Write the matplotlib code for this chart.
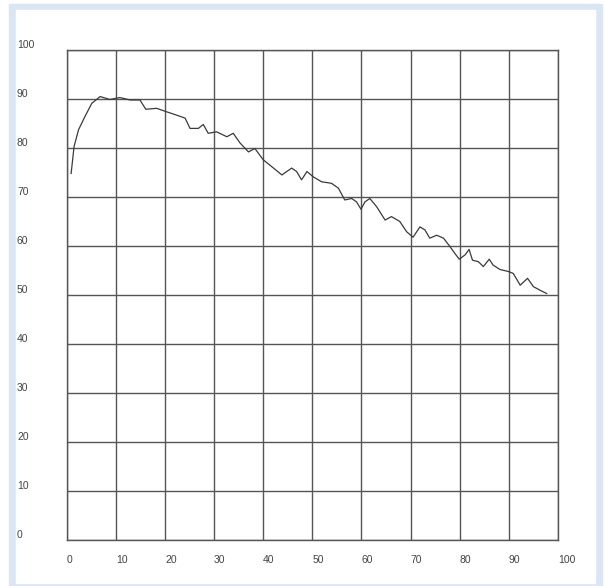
import matplotlib.pyplot as plt
from matplotlib.patches import Rectangle

# curve values
x_vals = [0.9, 1.5, 2.4, 3.7, 5.1, 6.8, 8.8, 10.8, 12.9, 14.9, 16.1, 18.3,
          20.3, 22.4, 24.1, 25.1, 26.8, 27.8, 28.8, 30.5, 32.6, 33.9, 35.3,
          37.0, 38.3, 40.0, 42.1, 43.8, 45.8, 46.8, 47.8, 48.9, 50.2, 51.9,
          53.9, 55.3, 56.6, 58.0, 59.0, 59.9, 60.7, 61.7, 63.1, 64.8, 66.1,
          67.8, 69.2, 70.5, 71.9, 72.9, 73.9, 75.3, 76.7, 78.0, 79.0, 79.9,
          81.1, 81.9, 82.6, 83.8, 84.8, 86.0, 86.8, 88.2, 89.9, 90.9, 92.3,
          93.8, 95.0, 96.3, 97.7]
y_vals = [74.8, 80.3, 83.7, 86.4, 89.1, 90.5, 89.9, 90.3, 89.8, 89.8, 87.9, 88.1,
          87.4, 86.7, 86.1, 84.0, 84.0, 84.8, 83.0, 83.3, 82.3, 83.0, 81.0,
          79.2, 79.9, 77.6, 75.9, 74.5, 75.9, 75.2, 73.5, 75.2, 74.1, 73.1,
          72.8, 71.8, 69.4, 69.7, 69.0, 67.5, 69.0, 69.7, 68.0, 65.3, 66.0,
          65.0, 62.9, 61.8, 63.9, 63.3, 61.6, 62.2, 61.6, 59.9, 58.5, 57.3,
          58.2, 59.3, 57.1, 56.8, 55.8, 57.3, 56.1, 55.2, 54.8, 54.4, 52.0,
          53.4, 51.7, 51.0, 50.3]
ticks = list(range(0, 101, 10))

W, H = 606, 586
fig = plt.figure(figsize=(W / 100, H / 100), dpi=100)

# light blue frame round the panel
fig.patches.append(Rectangle((9 / W, 1 - 585 / H), 593 / W, 581 / H,
                             transform=fig.transFigure, color='#dae6f3', zorder=-2))
fig.patches.append(Rectangle((16 / W, 1 - 583 / H), 579 / W, 573 / H,
                             transform=fig.transFigure, color='white', zorder=-1))

ax = fig.add_axes([66.7 / W, 46 / H, 491.3 / W, 490 / H])
ax.patch.set_alpha(0)
ax.plot(x_vals, y_vals, color='#3a3a3a', lw=0.9)

ax.set_xlim(0, 100)
ax.set_ylim(0, 100)
ax.set_xticks(ticks)
ax.set_yticks(ticks)
ax.grid(True, color='#555555', lw=1.0)
ax.set_axisbelow(True)
for s in ax.spines.values():
    s.set_color('#555555')
    s.set_linewidth(1.0)

ax.tick_params(length=0, labelsize=7.5, labelcolor='#444444')
ax.tick_params(axis='y', pad=35.8)
ax.tick_params(axis='x', pad=11)
for lab in ax.get_yticklabels():
    lab.set_horizontalalignment('left')
    lab.set_verticalalignment('bottom')
    lab.set_fontfamily('Liberation Sans')
for lab in ax.get_xticklabels():
    lab.set_horizontalalignment('left')
    lab.set_fontfamily('Liberation Sans')

plt.savefig('out.png', dpi=100)
